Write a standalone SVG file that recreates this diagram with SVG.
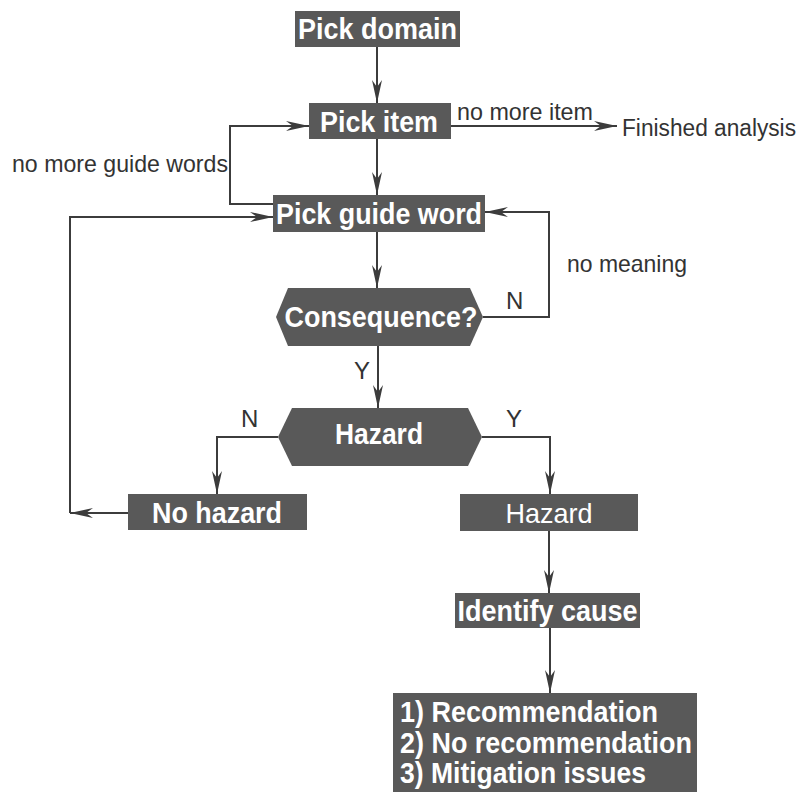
<svg xmlns="http://www.w3.org/2000/svg" width="804" height="792" viewBox="0 0 804 792">
<style>
.node{fill:#595959}
.nt{font-family:"Liberation Sans",Arial,sans-serif;font-weight:bold;font-size:29px;fill:#ffffff;text-anchor:middle}
.nr{font-family:"Liberation Sans",Arial,sans-serif;font-size:28px;fill:#ffffff;text-anchor:middle}
.lbl{font-family:"Liberation Sans",Arial,sans-serif;font-size:24px;fill:#333333}
.edge{fill:none;stroke:#3c3c3c;stroke-width:2;marker-end:url(#arr)}
</style>
<defs>
<marker id="arr" markerUnits="userSpaceOnUse" markerWidth="30" markerHeight="14" refX="24" refY="6" orient="auto" viewBox="0 0 30 14">
<path d="M24,6 L1,1 L8,6 L1,11 Z" fill="#3c3c3c"/>
</marker>
</defs>
<rect width="804" height="792" fill="#ffffff"/>
<g id="connectors">
<path class="edge" d="M377,47 V103"/>
<path class="edge" d="M451,126 H617"/>
<path class="edge" d="M377,139 V195"/>
<path class="edge" d="M273,204 H230 V126 H309"/>
<path class="edge" d="M128,513 H70"/>
<path class="edge" d="M70,513 V217 H273"/>
<path class="edge" d="M377,232 V288"/>
<path class="edge" d="M483,317 H549 V212 H485"/>
<path class="edge" d="M378,346 V408"/>
<path class="edge" d="M278,437 H217 V494"/>
<path class="edge" d="M482,437 H550 V494"/>
<path class="edge" d="M549,531 V593"/>
<path class="edge" d="M550,628 V693"/>
<text class="lbl" x="457" y="120" textLength="136" lengthAdjust="spacingAndGlyphs">no more item</text>
<text class="lbl" x="622" y="136" style="font-size:23px" textLength="174" lengthAdjust="spacingAndGlyphs">Finished analysis</text>
<text class="lbl" x="12" y="172" textLength="216" lengthAdjust="spacingAndGlyphs">no more guide words</text>
<text class="lbl" x="567" y="272" textLength="120" lengthAdjust="spacingAndGlyphs">no meaning</text>
<text class="lbl" x="506" y="309">N</text>
<text class="lbl" x="354" y="379">Y</text>
<text class="lbl" x="241" y="427">N</text>
<text class="lbl" x="506" y="427">Y</text>
</g>
<g id="pick-domain">
<rect class="node" x="295" y="11" width="165" height="36"/>
<text class="nt" x="377.5" y="39" textLength="159" lengthAdjust="spacingAndGlyphs">Pick domain</text>
</g>
<g id="pick-item">
<rect class="node" x="309" y="103" width="142" height="36"/>
<text class="nt" x="379" y="132" textLength="118" lengthAdjust="spacingAndGlyphs">Pick item</text>
</g>
<g id="pick-guide-word">
<rect class="node" x="273" y="195" width="212" height="37"/>
<text class="nt" x="379" y="224" textLength="206" lengthAdjust="spacingAndGlyphs">Pick guide word</text>
</g>
<g id="consequence">
<polygon class="node" points="288,288 470,288 483,317 470,346 288,346 276,317"/>
<text class="nt" x="381" y="327" textLength="193" lengthAdjust="spacingAndGlyphs">Consequence?</text>
</g>
<g id="hazard-decision">
<polygon class="node" points="292,408 468,408 482,437 468,466 292,466 278,437"/>
<text class="nt" x="379" y="444" textLength="88" lengthAdjust="spacingAndGlyphs">Hazard</text>
</g>
<g id="no-hazard">
<rect class="node" x="128" y="494" width="179" height="36"/>
<text class="nt" x="217" y="523" textLength="130" lengthAdjust="spacingAndGlyphs">No hazard</text>
</g>
<g id="hazard">
<rect class="node" x="460" y="494" width="178" height="37"/>
<text class="nr" x="549" y="523" textLength="87" lengthAdjust="spacingAndGlyphs">Hazard</text>
</g>
<g id="identify-cause">
<rect class="node" x="455" y="593" width="185" height="35"/>
<text class="nt" x="547.5" y="621" textLength="180" lengthAdjust="spacingAndGlyphs">Identify cause</text>
</g>
<g id="outcomes">
<rect class="node" x="393" y="693" width="304" height="110"/>
<text class="nt" x="400" y="722" style="text-anchor:start" textLength="258" lengthAdjust="spacingAndGlyphs">1) Recommendation</text>
<text class="nt" x="400" y="753" style="text-anchor:start" textLength="292" lengthAdjust="spacingAndGlyphs">2) No recommendation</text>
<text class="nt" x="400" y="783" style="text-anchor:start" textLength="246" lengthAdjust="spacingAndGlyphs">3) Mitigation issues</text>
</g>
</svg>
